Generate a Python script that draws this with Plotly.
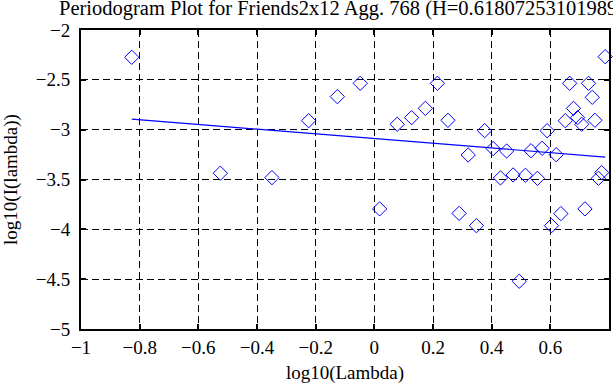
import plotly.graph_objects as go

# log10(lambda) values of the periodogram points
log_lambda = [-0.827, -0.525, -0.349, -0.224, -0.126, -0.048, 0.018, 0.078, 0.127, 0.174,
              0.215, 0.251, 0.289, 0.320, 0.348, 0.376, 0.405, 0.430, 0.451, 0.473,
              0.494, 0.515, 0.534, 0.556, 0.572, 0.589, 0.604, 0.620, 0.636, 0.651,
              0.666, 0.679, 0.693, 0.707, 0.718, 0.730, 0.743, 0.752, 0.764, 0.775, 0.787]
# log10(I(lambda)) values
log_I = [-2.274, -3.437, -3.481, -2.910, -2.669, -2.535, -3.795, -2.946, -2.879, -2.786,
         -2.535, -2.906, -3.840, -3.254, -3.963, -3.010, -3.190, -3.484, -3.214, -3.454,
         -4.521, -3.458, -3.211, -3.488, -3.187, -3.010, -3.963, -3.251, -3.842, -2.910,
         -2.535, -2.786, -2.879, -2.946, -3.795, -2.535, -2.675, -2.906, -3.488, -3.431, -2.268]

# least-squares fit line (slope = 1 - 2H)
fit_slope = -0.2361
fit_intercept = -3.089

x_ticks = [-1, -0.8, -0.6, -0.4, -0.2, 0, 0.2, 0.4, 0.6, 0.8]
x_tick_text = ["\u22121", "\u22120.8", "\u22120.6", "\u22120.4", "\u22120.2", "0", "0.2", "0.4", "0.6", "0.8"]
y_ticks = [-5, -4.5, -4, -3.5, -3, -2.5, -2]
y_tick_text = ["\u22125", "\u22124.5", "\u22124", "\u22123.5", "\u22123", "\u22122.5", "\u22122"]

title_text = "Periodogram Plot for Friends2x12 Agg. 768 (H=0.61807253101989)"

fit_x = [min(log_lambda), max(log_lambda)]
fit_y = [fit_intercept + fit_slope * v for v in fit_x]

FONT = "Liberation Serif"
fig = go.Figure()
fig.add_trace(go.Scatter(
    x=log_lambda, y=log_I, mode="markers",
    marker=dict(symbol="diamond-open", size=11, color="#0000ff", line=dict(width=1, color="#0000ff")),
    showlegend=False, cliponaxis=False))
fig.add_trace(go.Scatter(
    x=fit_x, y=fit_y, mode="lines",
    line=dict(color="#0000ff", width=1.2), showlegend=False))

axis_common = dict(
    showline=True, linecolor="black", linewidth=2, mirror="ticks",
    ticks="inside", ticklen=5, tickwidth=2, tickcolor="black",
    showgrid=True, gridcolor="black", gridwidth=1, griddash="7px,4px",
    zeroline=False, tickfont=dict(family=FONT, size=19, color="black"),
    automargin=False,
)
fig.update_xaxes(range=[-1, 0.8], tickvals=x_ticks, ticktext=x_tick_text,
                 title=dict(text="log10(Lambda)", font=dict(family=FONT, size=19, color="black"), standoff=9),
                 **axis_common)
fig.update_yaxes(range=[-5, -2], tickvals=y_ticks, ticktext=y_tick_text, ticklabelstandoff=5,
                 title=dict(text="log10(I(lambda))", font=dict(family=FONT, size=19, color="black"), standoff=20),
                 **axis_common)

fig.update_layout(
    width=613, height=385,
    margin=dict(l=81, r=4, t=30, b=56),
    plot_bgcolor="white", paper_bgcolor="white",
    hovermode=False,
    title=dict(text=title_text, font=dict(family=FONT, size=20.5, color="black"),
               xref="container", x=59 / 613, xanchor="left",
               yref="container", y=1 - 15 / 385, yanchor="bottom"),
)
fig.write_html(
    "out.html",
    config={"displayModeBar": False},
    post_script="document.body.style.margin='0';document.body.style.overflow='hidden';",
)
